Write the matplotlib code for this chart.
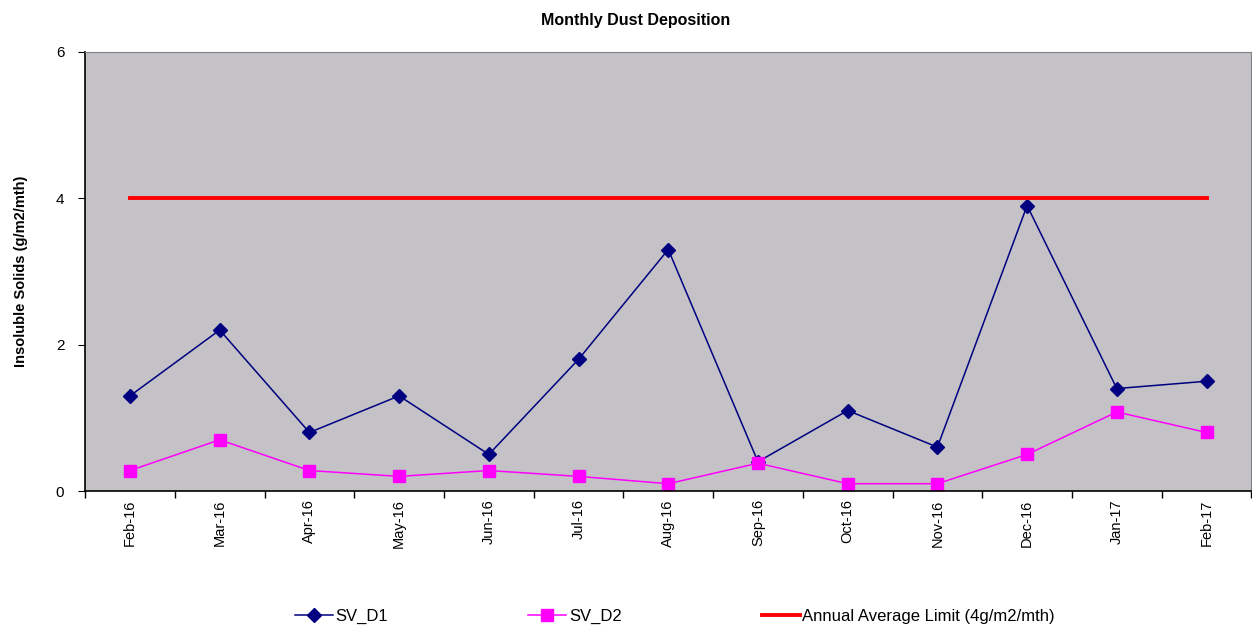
import matplotlib
matplotlib.use("Agg")
import matplotlib.pyplot as plt
import numpy as np

months = ['Feb-16', 'Mar-16', 'Apr-16', 'May-16', 'Jun-16', 'Jul-16', 'Aug-16',
          'Sep-16', 'Oct-16', 'Nov-16', 'Dec-16', 'Jan-17', 'Feb-17']
sv_d1 = [1.3, 2.2, 0.8, 1.3, 0.5, 1.8, 3.3, 0.4, 1.1, 0.6, 3.9, 1.4, 1.5]
sv_d2 = [0.28, 0.7, 0.28, 0.2, 0.28, 0.2, 0.1, 0.38, 0.1, 0.1, 0.5, 1.08, 0.8]
limit = [4] * len(months)

plt.rcParams['font.family'] = ['Liberation Sans', 'DejaVu Sans']

fig = plt.figure(figsize=(12.52, 6.3), dpi=100)
ax = fig.add_axes([0.068, 0.2206, 0.9315, 0.697])
ax.set_facecolor('#c4c2c6')

x = np.arange(len(months))
ax.plot(x, sv_d1, color='#000080', marker='D', markersize=7, linewidth=1.1, label='SV_D1')
ax.plot(x, sv_d2, color='#ff00ff', marker='s', markersize=8.5, linewidth=1.1, label='SV_D2')
ax.plot(x, limit, color='#ff0000', linewidth=2.8, label='Annual Average Limit (4g/m2/mth)')

ax.set_xlim(-0.5, len(months) - 0.5)
ax.set_ylim(0, 6)
ax.set_yticks([0, 2, 4, 6])
ax.set_xticks(x)
ax.set_xticklabels(months, rotation=90, fontsize=10.5)
ax.set_xticks(np.arange(-0.5, len(months)), minor=True)
ax.tick_params(axis='x', which='major', length=0, pad=6)
ax.tick_params(axis='x', which='minor', length=5, width=1, direction='out')
ax.tick_params(axis='y', length=5, labelsize=11, pad=10)

for s in ['top', 'right']:
    ax.spines[s].set_color('#808080')
for s in ['left', 'bottom']:
    ax.spines[s].set_color('black')
    ax.spines[s].set_linewidth(1.2)

ax.set_ylabel('Insoluble Solids (g/m2/mth)', fontsize=10.5, fontweight='bold', labelpad=20)
fig.text(0.508, 0.967, 'Monthly Dust Deposition', ha='center', va='center',
         fontsize=11.5, fontweight='bold')

fig.legend(loc='center', bbox_to_anchor=(0.539, 0.022), ncol=3, frameon=False,
           fontsize=12, columnspacing=8.4, handlelength=2.3, handletextpad=0.15)

fig.savefig('out.png', dpi=100)
